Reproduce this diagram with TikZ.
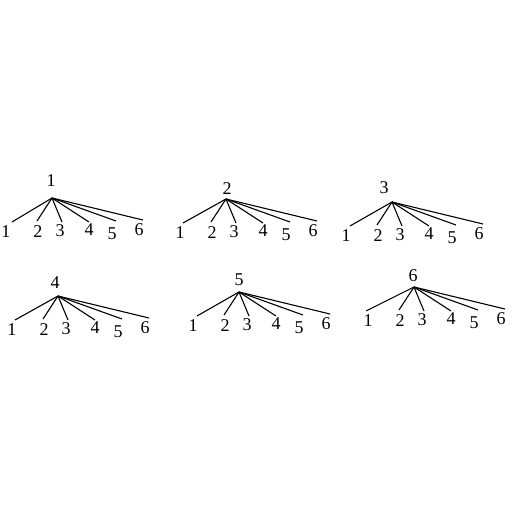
\documentclass[tikz,border=0pt]{standalone}
\usepackage{fontspec}
\setmainfont{Liberation Serif}
\begin{document}
\begin{tikzpicture}[x=1pt,y=-1pt,
  lbl/.style={inner sep=0pt,font=\fontsize{18}{20}\selectfont},
  edge/.style={line width=1.1pt,black}]
\useasboundingbox (0,0) rectangle (512,512);
% tree: name, apex x, apex y, root dx, root dy, leaf-1 dx
\foreach \t/\ax/\ay/\rdx/\rdy/\fx in {1/52/198/-1/-17/-40, 2/226/199/1/-10/-43, 3/392/202/-8/-14/-42, 4/58/296/-3/-13/-43, 5/239/292/0/-12/-42, 6/414/287/-1/-11/-48}{
  \coordinate (a\t) at (\ax,\ay);
  \node[lbl] (r\t) at (\ax+\rdx,\ay+\rdy) {\t};
  \foreach \i/\ex/\ey/\lx/\ly in {1/\fx/24/-46/34, 2/-15/23/-14/34, 3/10/24/8/33, 4/37/24/37/32, 5/64/23/60/36, 6/91/22/87/32}{
    \coordinate (e\t\i) at (\ax+\ex,\ay+\ey);
    \node[lbl] (l\t\i) at (\ax+\lx,\ay+\ly) {\i};
    \draw[edge] (a\t) -- (e\t\i);
  }
}
\end{tikzpicture}
\end{document}
